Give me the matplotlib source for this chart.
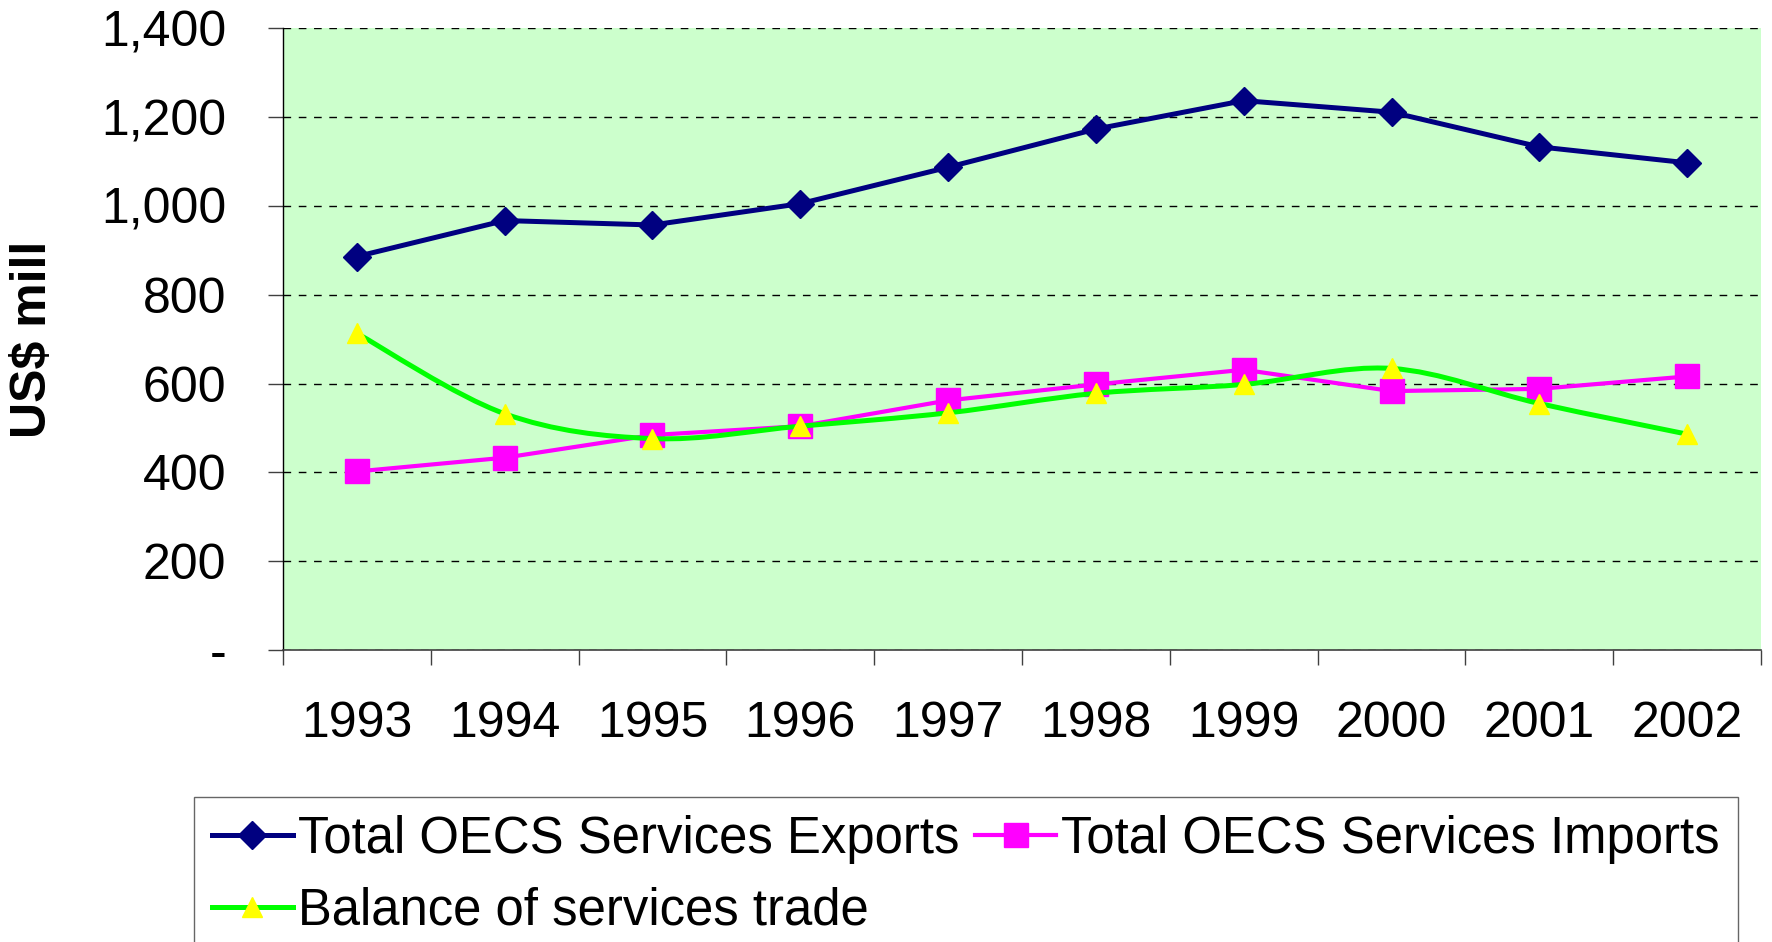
import numpy as np
import matplotlib
matplotlib.use("Agg")
import matplotlib.pyplot as plt
from matplotlib.path import Path
from matplotlib.patches import PathPatch
from matplotlib.lines import Line2D
from matplotlib.ticker import FuncFormatter, FixedLocator

plt.rcParams["font.family"] = ["Liberation Sans", "DejaVu Sans"]

years = ["1993", "1994", "1995", "1996", "1997", "1998", "1999", "2000", "2001", "2002"]
exports = [886, 967, 957, 1005, 1087, 1173, 1237, 1211, 1133, 1097]
imports = [402, 433, 484, 504, 562, 598, 631, 583, 588, 616]
balance = [713, 532, 476, 504, 534, 578, 598, 634, 555, 486]

label_exp = "Total OECS Services Exports"
label_imp = "Total OECS Services Imports"
label_bal = "Balance of services trade"

navy = "#000080"
magenta = "#FF00FF"
green = "#00FF00"
yellow = "#FFFF00"
fs = 36
fs_leg = 36.6

fig = plt.figure(figsize=(17.72, 9.42), dpi=100)
ax = fig.add_axes([0.1597, 0.310, 0.8341, 0.660])
ax.set_facecolor("#CCFFCC")

x = np.arange(len(years))

# exports / imports: straight segments
ax.plot(x, exports, color=navy, lw=3.6, marker="D", ms=14.5,
        mfc=navy, mec=navy, zorder=3)
ax.plot(x, imports, color=magenta, lw=3.0, marker="s", ms=17.5,
        mfc=magenta, mec=magenta, zorder=3)

# balance: smoothed line (bezier through the data points, like Excel)
pts = np.column_stack([x, balance]).astype(float)
verts = [pts[0]]
codes = [Path.MOVETO]
for i in range(len(pts) - 1):
    p0 = pts[i - 1] if i > 0 else pts[i]
    p1 = pts[i]
    p2 = pts[i + 1]
    p3 = pts[i + 2] if i + 2 < len(pts) else pts[i + 1]
    verts += [p1 + (p2 - p0) / 6.0, p2 - (p3 - p1) / 6.0, p2]
    codes += [Path.CURVE4] * 3
ax.add_patch(PathPatch(Path(verts, codes), facecolor="none", edgecolor=green,
                       lw=3.6, zorder=4, capstyle="round", joinstyle="round"))
ax.plot(x, balance, linestyle="none", marker="^", ms=14,
        mfc=yellow, mec=yellow, zorder=5)

ax.set_xlim(-0.5, len(years) - 0.5)
ax.set_ylim(0, 1400)

# y axis
ax.yaxis.set_major_locator(FixedLocator(range(0, 1401, 200)))
ax.yaxis.set_major_formatter(FuncFormatter(lambda v, p: "-" if v == 0 else f"{v:,.0f}"))
ax.tick_params(axis="y", length=11, width=1, color="#404040", pad=30, labelsize=fs)
ax.yaxis.grid(True, color="black", lw=1.0, linestyle=(0, (5.5, 5.5)))
ax.set_axisbelow(True)

# x axis: labels at centres, ticks at category boundaries
ax.set_xticks(x)
ax.set_xticklabels(years)
ax.set_xticks(np.arange(-0.5, len(years)), minor=True)
ax.tick_params(axis="x", which="major", length=0, pad=37, labelsize=fs)
ax.tick_params(axis="x", which="minor", length=11, width=1, color="#404040")

for s in ["top", "right"]:
    ax.spines[s].set_visible(False)
ax.spines["left"].set_color("black")
ax.spines["left"].set_linewidth(1)
ax.spines["bottom"].set_color("#404040")
ax.spines["bottom"].set_linewidth(1.2)

ax.set_ylabel("US$ mill", fontsize=fs, fontweight="bold")
ax.yaxis.set_label_coords(-0.169, 0.5)
ax.yaxis.label.set_va("center")

h_exp = Line2D([], [], color=navy, lw=3.6, marker="D", ms=14.5, mfc=navy, mec=navy)
h_imp = Line2D([], [], color=magenta, lw=3.0, marker="s", ms=17.5, mfc=magenta, mec=magenta)
h_bal = Line2D([], [], color=green, lw=3.6, marker="^", ms=14, mfc=yellow, mec=yellow)
leg = fig.legend([h_exp, h_bal, h_imp], [label_exp, label_bal, label_imp],
                 ncol=2, loc="upper left", bbox_to_anchor=(0.1095, 0.154),
                 fontsize=fs_leg, frameon=True, fancybox=False, borderaxespad=0,
                 borderpad=0.35, handlelength=1.6, handletextpad=0.1,
                 columnspacing=0.3, labelspacing=0.45)
leg.get_frame().set_edgecolor("#404040")
leg.get_frame().set_linewidth(1)

fig.savefig("out.png", dpi=100)
